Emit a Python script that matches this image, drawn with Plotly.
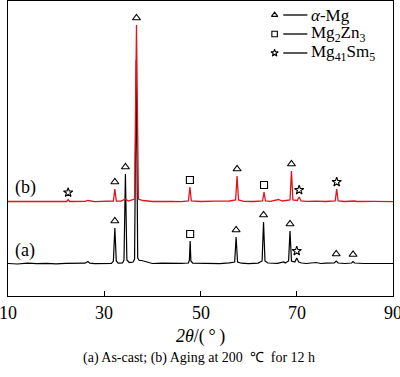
import plotly.graph_objects as go

# ---- data (2theta, relative intensity) ----
two_theta_a = [10, 12, 14, 16, 18, 20, 22, 24, 26, 26.6, 27, 28, 30, 31.5, 31.9, 32.2, 32.5, 32.9,
               33.8, 34.1, 34.4, 34.7, 35.2, 36.0, 36.3, 36.65, 36.95, 37.3, 37.8, 38.5, 39, 40, 42,
               44, 46, 47.5, 47.7, 47.85, 48.0, 48.4, 50, 52, 54, 56, 57.1, 57.4, 57.7, 58.5, 60,
               62, 62.8, 63.1, 63.4, 64, 66, 67.3, 67.6, 68.3, 68.6, 68.9, 69.6, 70.0, 70.4, 71,
               72, 74, 75, 76, 77.8, 78.2, 78.6, 80, 81.4, 81.7, 82, 84, 86, 88, 90]
intensity_a = [0.5, 0, 0.8, 0.3, 0.6, 0.2, 0.7, 0.4, 0.8, 2.5, 0.8, 0.3, 0.5, 0.6, 3, 36, 3, 0.8,
               1, 4, 90, 4, 1.5, 2, 5, 204, 6, 3.5, 3.5, 2.5, 1.2, 0.5, 0.8,
               0.4, 0.6, 1, 4, 23, 3, 0.8, 0.5, 0.7, 0.3, 1.2, 2, 27, 2, 0.8, 0.4,
               0.9, 3, 42, 3, 1, 0.6, 2, 1, 3, 33, 3, 2, 6, 2, 1,
               0.5, 1.5, 0.5, 0.8, 1, 3, 1, 0.5, 1, 2.5, 1, 0.5, 0.7, 0.4, 0.5]

two_theta_b = [10, 14, 18, 22.2, 22.5, 22.8, 26, 26.6, 28, 30, 31.9, 32.2, 32.5, 33.5, 34.4, 35,
               36.3, 36.7, 37.1, 38, 40, 44, 46, 47.5, 47.8, 48.1, 50, 53, 56, 57.3, 57.6, 57.9,
               59, 61, 62.9, 63.2, 63.5, 64.5, 66.2, 67, 68.6, 68.9, 69.2, 70.1, 70.5, 70.9, 72,
               74, 76, 78, 78.3, 78.6, 80, 82, 82.5, 86, 90]
intensity_b = [0.5, 0.3, 0.6, 0.5, 2.5, 0.5, 0.6, 1.5, 0.4, 0.5, 1, 13, 1, 0.8, 3, 1,
               3, 177, 3, 1.5, 0.5, 0.6, 0.3, 1, 15, 1, 0.5, 0.8, 1, 2, 26, 2,
               0.6, 0.5, 1, 10, 1, 0.7, 2.5, 1, 2, 31, 2, 1.5, 5, 1, 0.6,
               0.8, 0.5, 1, 13, 1, 0.5, 1, 0.5, 0.6, 0.4]

# phase identification (peak positions)
a_alpha = [32.2, 34.4, 57.4, 63.1, 68.6, 78.2, 81.7]
a_mg2zn3 = [47.85]
a_mg41sm5 = [70.0]
b_alpha = [32.2, 36.7, 57.6, 68.9]
b_mg2zn3 = [47.8, 63.2]
b_mg41sm5 = [22.5, 70.5, 78.3]

x_ticks = [10, 30, 50, 70, 90]
curve_labels = ["(a)", "(b)"]
legend_labels = ["<i>α</i>-Mg", "Mg<sub>2</sub>Zn<sub>3</sub>", "Mg<sub>41</sub>Sm<sub>5</sub>"]
x_title = "<i>2θ</i>/(\u2009°\u2009)"
caption = "(a) As-cast; (b) Aging at 200 \u00a0℃\u00a0 for 12 h"

# ---- styling / layout ----
OFF_A, OFF_B = 32, 94
GAP = 7
FONT = "Liberation Serif, Times New Roman, serif"
RED = "#e3131b"

fig = go.Figure()
fig.add_trace(go.Scatter(x=two_theta_a, y=[v + OFF_A for v in intensity_a], mode="lines",
                         line=dict(color="black", width=1.2), showlegend=False))
fig.add_trace(go.Scatter(x=two_theta_b, y=[v + OFF_B for v in intensity_b], mode="lines",
                         line=dict(color=RED, width=1.3), showlegend=False))


def peak_top(xs, ys, pos):
    return max(y for x, y in zip(xs, ys) if abs(x - pos) <= 0.35)


symbols = ["triangle-up-open", "square-open", "star-open"]
sizes = [7, 7, 7]
groups = [
    (two_theta_a, intensity_a, OFF_A, [a_alpha, a_mg2zn3, a_mg41sm5]),
    (two_theta_b, intensity_b, OFF_B, [b_alpha, b_mg2zn3, b_mg41sm5]),
]
for xs, ys, off, lists in groups:
    for sym, sz, plist in zip(symbols, sizes, lists):
        fig.add_trace(go.Scatter(
            x=plist, y=[peak_top(xs, ys, p) + off + GAP for p in plist], mode="markers",
            marker=dict(symbol=sym, size=sz, color="black", line=dict(width=1.1, color="black")),
            showlegend=False, cliponaxis=False))

# legend (manual)
leg_y = [281, 262, 243]
for sym, sz, lab, yy in zip(symbols, sizes, legend_labels, leg_y):
    fig.add_trace(go.Scatter(x=[65.4], y=[yy], mode="markers",
                             marker=dict(symbol=sym, size=sz - 1.5, color="black",
                                         line=dict(width=1.1, color="black")),
                             showlegend=False))
    fig.add_shape(type="line", x0=67.2, x1=72.2, y0=yy, y1=yy, line=dict(color="black", width=1.3))
    fig.add_annotation(x=72.6, y=yy, text=lab, showarrow=False, xanchor="left", yanchor="middle",
                       font=dict(family=FONT, size=17, color="black"))

fig.add_annotation(x=13.5, y=OFF_A + 14, text=curve_labels[0], showarrow=False, xanchor="center",
                   yanchor="middle", font=dict(family=FONT, size=18, color="black"))
fig.add_annotation(x=13.7, y=OFF_B + 15, text=curve_labels[1], showarrow=False, xanchor="center",
                   yanchor="middle", font=dict(family=FONT, size=18, color="black"))

# tick labels
for t in x_ticks:
    fig.add_annotation(x=t, y=-0.058, yref="paper", text=str(t), showarrow=False,
                       xanchor="center", yanchor="middle",
                       font=dict(family=FONT, size=18, color="black"))

fig.add_annotation(xref="paper", yref="paper", x=0.5, y=-0.136, text=x_title, showarrow=False,
                   xanchor="center", yanchor="middle", font=dict(family=FONT, size=18, color="black"))
fig.add_annotation(xref="paper", yref="paper", x=0.497, y=-0.21, text=caption, showarrow=False,
                   xanchor="center", yanchor="middle", font=dict(family=FONT, size=14, color="black"))

fig.update_layout(
    width=400, height=377,
    margin=dict(l=8, r=7, t=1, b=81, autoexpand=False),
    paper_bgcolor="white", plot_bgcolor="white",
    font=dict(family=FONT, color="black"),
    hovermode=False,
    xaxis=dict(range=[10, 90], tickvals=x_ticks, showticklabels=False, automargin=False,
               ticks="inside", ticklen=5, tickwidth=1.2, tickcolor="black",
               showline=True, linecolor="black", linewidth=1.3, mirror=True,
               showgrid=False, zeroline=False),
    yaxis=dict(range=[0, 295], showticklabels=False, ticks="", showline=True, linecolor="black",
               linewidth=1.3, mirror=True, showgrid=False, zeroline=False, automargin=False),
)

fig.write_html("out.html", config={"displayModeBar": False},
               post_script="document.body.style.margin='0';document.body.style.padding='0';"
                           "document.body.style.overflow='hidden';")
